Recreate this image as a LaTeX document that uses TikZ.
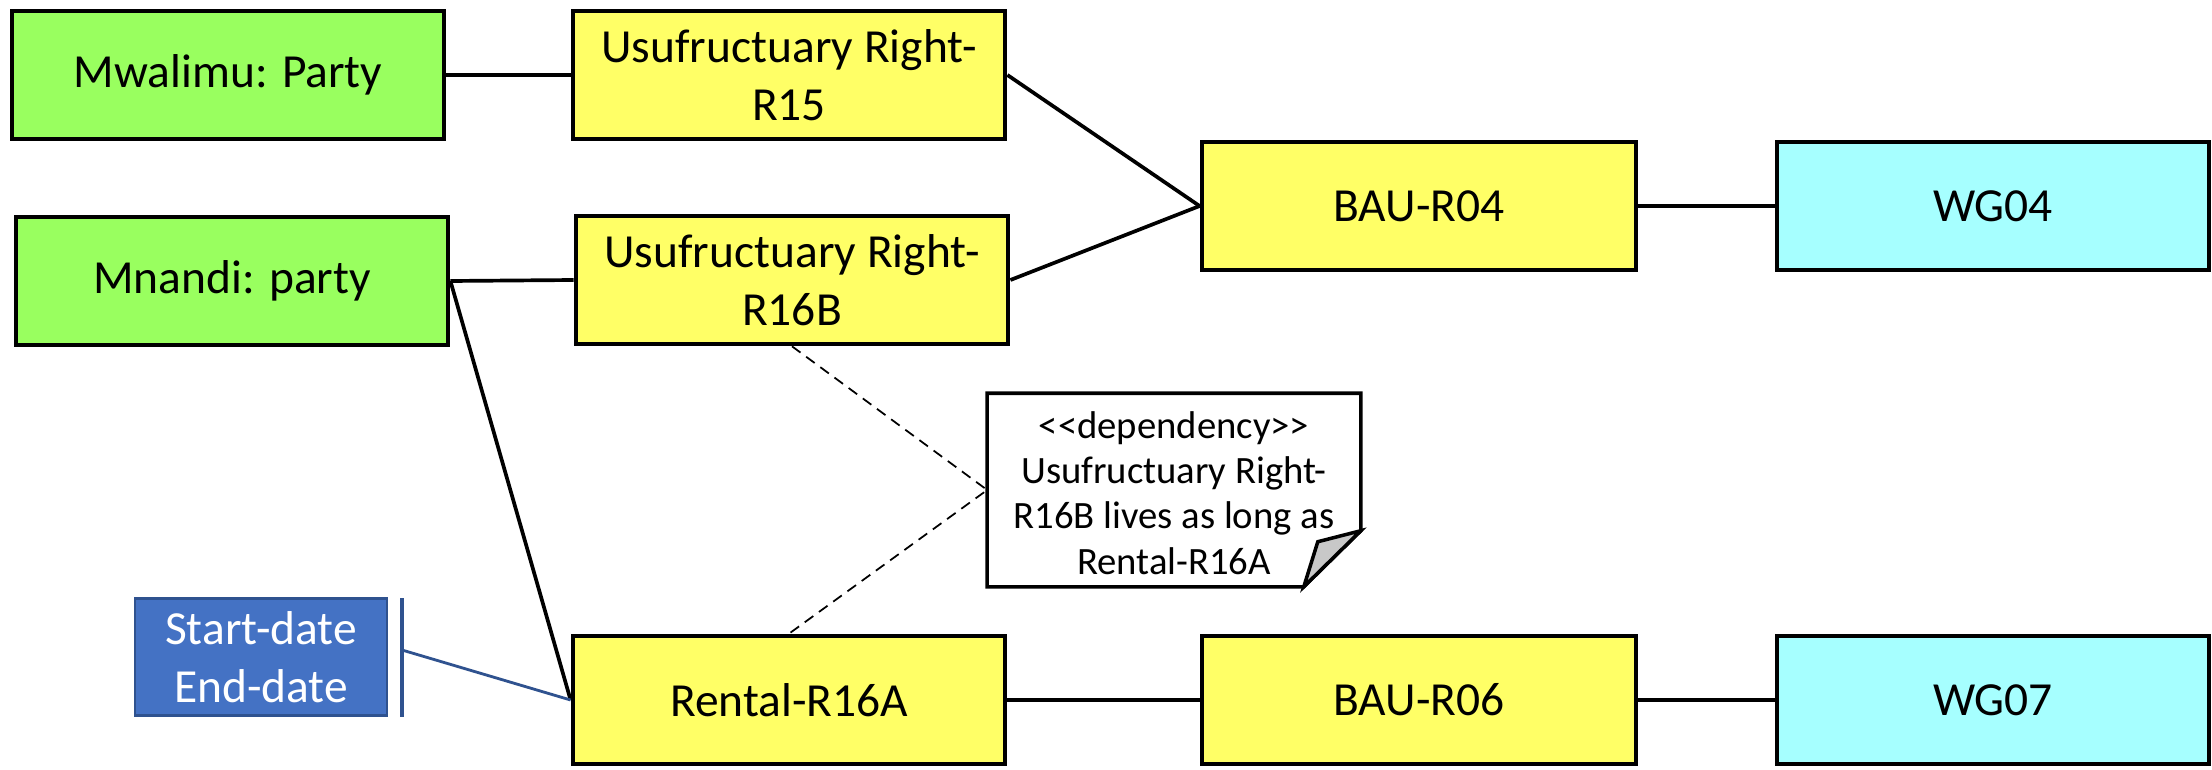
\documentclass[tikz,border=0pt]{standalone}
\usepackage{fontspec}
\setmainfont{Carlito}
\definecolor{partygreen}{HTML}{99FF5F}
\definecolor{rightyellow}{HTML}{FFFF66}
\definecolor{wgcyan}{HTML}{A6FFFF}
\definecolor{datesblue}{HTML}{4472C4}
\definecolor{datesborder}{HTML}{2F528F}
\definecolor{foldgray}{HTML}{C8C8C8}
\begin{document}
\begin{tikzpicture}[x=0.01cm,y=-0.01cm,
  box/.style={draw=black, line width=1.3pt, rectangle, inner sep=0pt,
    minimum width=4.32cm, minimum height=1.28cm, align=center,
    font=\fontsize{13.5}{16.5}\selectfont},
  partybox/.style={box, fill=partygreen},
  rightbox/.style={box, fill=rightyellow},
  wgbox/.style={box, fill=wgcyan},
  datesbox/.style={draw=datesborder, line width=0.8pt, fill=datesblue, text=white,
    rectangle, inner sep=0pt, minimum width=2.52cm, minimum height=1.17cm,
    align=center, font=\fontsize{13.5}{16.5}\selectfont},
  link/.style={draw=black, line width=1.05pt},
  bluelink/.style={draw=datesborder, line width=0.8pt},
  deplink/.style={draw=black, line width=0.5pt, dashed, dash pattern=on 3pt off 2pt},
  notetext/.style={inner sep=0pt, minimum width=3.72cm, minimum height=1.92cm,
    align=center, font=\fontsize{11}{12.9}\selectfont}]
\useasboundingbox (0,0) rectangle (2212,770);

\node[partybox] (mwalimu) at (228,75) {Mwalimu: Party};
\node[rightbox] (r15) at (789,75) {Usufructuary Right-\\R15};
\node[partybox] (mnandi) at (232,281) {Mnandi: party};
\node[rightbox] (r16b) at (792,280) {Usufructuary Right-\\R16B};
\node[rightbox, minimum width=4.34cm] (bau04) at (1419,206) {BAU-R04};
\node[wgbox] (wg04) at (1993,206) {WG04};
\node[rightbox] (rental) at (789,700) {Rental-R16A};
\node[rightbox, minimum width=4.34cm] (bau06) at (1419,700) {BAU-R06};
\node[wgbox] (wg07) at (1993,700) {WG07};
\node[datesbox] (dates) at (261,657) {Start-date\\End-date};

% note
\node[notetext] (note) at (1174,490) {};
\draw[line width=1pt, fill=white] (note.north west) -- (note.north east)
  -- ([yshift=0.56cm]note.south east) -- ([xshift=-0.57cm]note.south east)
  -- (note.south west) -- cycle;
\draw[line width=1pt, fill=foldgray] ([yshift=0.56cm]note.south east)
  -- ([xshift=-0.43cm,yshift=0.45cm]note.south east)
  -- ([xshift=-0.57cm]note.south east) -- cycle;
\node[notetext] at ([yshift=-0.03cm]note.center) {{<}{<}dependency{>}{>}\\Usufructuary Right-\\R16B lives as long as\\Rental-R16A};

% bar next to dates
\coordinate (bartop) at (402,598);
\coordinate (barbot) at (402,717);
\coordinate (barmid) at (402,650);
\draw[bluelink, line width=1pt] (bartop) -- (barbot);

% connectors
\draw[link] (mwalimu.east) -- (r15.west);
\draw[link] (mnandi.east) -- (r16b.west);
\draw[link] (mnandi.east) -- (rental.west);
\draw[link] (r15.east) -- (bau04.west);
\draw[link] (r16b.east) -- (bau04.west);
\draw[link] (bau04.east) -- (wg04.west);
\draw[link] (rental.east) -- (bau06.west);
\draw[link] (bau06.east) -- (wg07.west);
\draw[bluelink] (barmid) -- (rental.west);
\draw[deplink] (r16b.south) -- (note.west) -- (rental.north);
\end{tikzpicture}
\end{document}
